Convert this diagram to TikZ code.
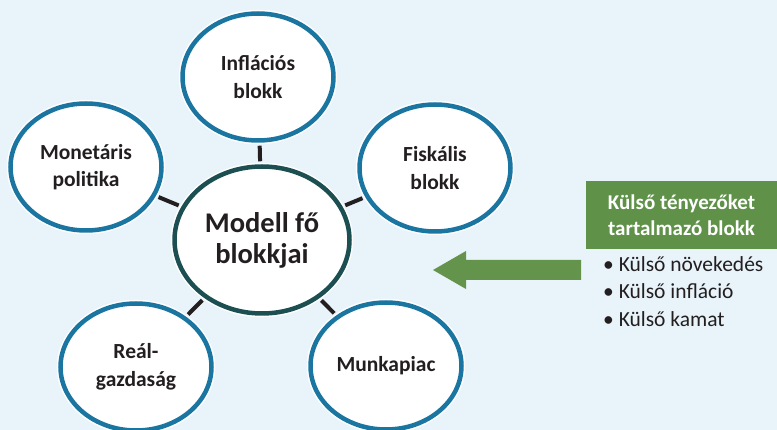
\documentclass[tikz,border=0pt]{standalone}
\usepackage{fontspec}
\setmainfont{Carlito}
\usetikzlibrary{shapes.geometric}
\definecolor{bgc}{HTML}{E8F3FA}
\definecolor{bluec}{HTML}{1B75A1}
\definecolor{tealc}{HTML}{1C4F52}
\definecolor{greenc}{HTML}{5F9149}
\definecolor{arrowc}{HTML}{64944C}
\definecolor{txtc}{HTML}{231F20}
\tikzset{
  blockell/.style={ellipse, fill=white, draw=bluec, line width=4.5pt,
    preaction={draw=white, line width=7.5pt},
    minimum width=151pt, minimum height=127pt, inner sep=0pt,
    align=center, text=txtc, font=\fontsize{21.5}{27.5}\selectfont\bfseries},
  mainell/.style={blockell, draw=tealc, minimum width=175pt, minimum height=147pt,
    font=\fontsize{28.5}{31}\selectfont\bfseries},
  link/.style={draw=txtc, line width=4pt, shorten <=3pt, shorten >=3pt},
}
\begin{document}
\begin{tikzpicture}[x=1pt,y=-1pt]
\fill[bgc] (0,0) rectangle (777,430);
\useasboundingbox (0,0) rectangle (777,430);
\node[mainell] (c) at (262,240) {Modell fő\\blokkjai};
\node[blockell] (inf) at (258,77) {Inflációs\\blokk};
\node[blockell] (mon) at (86,167) {Monetáris\\politika};
\node[blockell] (fis) at (435,168) {Fiskális\\blokk};
\node[blockell] (real) at (136,367) {Reál-\\gazdaság};
\node[blockell] (munk) at (386,366) {Munkapiac};
\draw[link] (c) -- (inf);
\draw[link] (c) -- (mon);
\draw[link] (c) -- (fis);
\draw[link] (c) -- (real);
\draw[link] (c) -- (munk);
\node[fill=greenc, minimum width=191pt, minimum height=68pt, inner sep=0pt,
  align=center, text=white, font=\fontsize{21}{26}\selectfont\bfseries]
  (ext) at (681.5,215) {Külső tényezőket\\tartalmazó blokk};
\node[anchor=north west, align=left, inner sep=0pt, text=txtc,
  font=\fontsize{21.5}{27.5}\selectfont] (list) at (603,256)
  {• Külső növekedés\\• Külső infláció\\• Külső kamat};
\coordinate (tip) at (433,270);
\fill[arrowc] (581,260) -- (466,260) -- (466,251) -- (tip) -- (466,289) -- (466,280) -- (581,280) -- cycle;
\end{tikzpicture}
\end{document}
